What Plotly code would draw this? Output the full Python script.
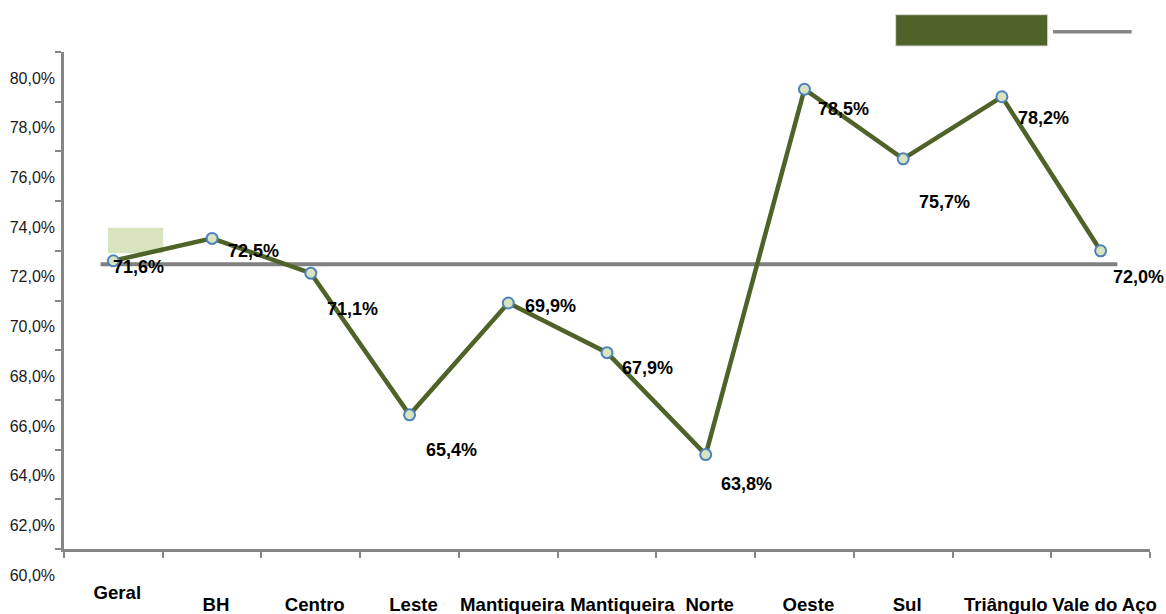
import plotly.graph_objects as go

# ---- data ----
categories = ["Geral", "BH", "Centro", "Leste", "Mantiqueira", "Mantiqueira",
              "Norte", "Oeste", "Sul", "Triângulo", "Vale do Aço"]
values = [71.6, 72.5, 71.1, 65.4, 69.9, 67.9, 63.8, 78.5, 75.7, 78.2, 72.0]
reference_value = 71.46
y_ticks = [60, 62, 64, 66, 68, 70, 72, 74, 76, 78, 80]
y_tick_labels = ["60,0%", "62,0%", "64,0%", "66,0%", "68,0%", "70,0%",
                 "72,0%", "74,0%", "76,0%", "78,0%", "80,0%"]

# ---- layout helpers (pixel offsets of the value labels) ----
label_dx = [25, 41, 42, 42, 42, 40, 41, 39, 41, 42, 38]
label_dy = [6, 13, 36, 35, 3, 15, 29, 20, 43, 21, 26]

FONT = "Liberation Sans, Arial, sans-serif"
OLIVE = "#4F6228"
GRAY = "#868686"

idx = list(range(len(categories)))

fig = go.Figure()
fig.add_trace(go.Scatter(
    x=idx, y=values, mode="lines+markers",
    line=dict(color=OLIVE, width=4.5),
    marker=dict(size=11, color="#D7E4BD", line=dict(color="#4F81BD", width=2)),
    hoverinfo="skip", showlegend=False, cliponaxis=False,
))

annotations = []
for i, v in enumerate(values):
    annotations.append(dict(
        x=i, y=v, xref="x", yref="y",
        text=f"{v:.1f}".replace(".", ",") + "%",
        showarrow=False, xshift=label_dx[i], yshift=-label_dy[i],
        font=dict(family=FONT, size=18, color="#000000", weight=700),
    ))

shapes = [
    dict(type="rect", xref="x", yref="y", x0=-0.054, x1=0.504, y0=71.9, y1=72.93,
         fillcolor="#D7E4BD", line=dict(width=0), layer="below"),
    dict(type="line", xref="x", yref="y", x0=-0.13, x1=10.17,
         y0=reference_value, y1=reference_value,
         line=dict(color="#808080", width=4), layer="below"),
    dict(type="rect", xref="paper", yref="paper", x0=0.7658, x1=0.9058, y0=1.0121, y1=1.0751,
         fillcolor=OLIVE, line=dict(color="#D9D9D9", width=1)),
    dict(type="line", xref="paper", yref="paper", x0=0.9107, x1=0.9831, y0=1.0408, y1=1.0408,
         line=dict(color=GRAY, width=3.5)),
]

common_x = dict(automargin=False, tickangle=0, ticks="", showline=False,
                ticklabeloverflow="allow", showgrid=False, zeroline=False,
                fixedrange=True)
label_font = dict(family=FONT, size=18.6, color="#000000", weight=700)

# groups of category labels: (indices, horizontal offset in category units, standoff)
label_groups = [
    ([0], 0.04, 30),
    ([1, 2, 3, 4, 6, 7, 8, 9, 10], 0.04, 42),
    ([5], 0.155, 42),
]

layout_axes = {}
for g, (ids, off, standoff) in enumerate(label_groups):
    layout_axes[f"xaxis{g + 2}"] = dict(
        **common_x, range=[-0.5 - off, 10.5 - off], overlaying="x", anchor="y",
        side="bottom", tickmode="array", tickvals=ids,
        ticktext=[categories[i] for i in ids], ticklabelstandoff=standoff,
        tickfont=label_font,
    )
    fig.add_trace(go.Scatter(x=[0], y=[70], xaxis=f"x{g + 2}", mode="markers",
                             marker=dict(opacity=0), hoverinfo="skip", showlegend=False))

fig.update_layout(
    width=1166, height=614,
    margin=dict(l=64, r=16, t=52, b=65),
    paper_bgcolor="white", plot_bgcolor="white",
    font=dict(family=FONT, color="#1a1a1a"),
    annotations=annotations, shapes=shapes,
    showlegend=False,
    xaxis=dict(
        range=[-0.5, 10.5], tickmode="array",
        tickvals=[i - 0.5 for i in range(len(categories) + 1)],
        ticktext=[""] * (len(categories) + 1),
        ticks="outside", ticklen=6, tickwidth=2, tickcolor=GRAY,
        showline=True, linecolor=GRAY, linewidth=2.5, automargin=False,
        showgrid=False, zeroline=False, fixedrange=True,
    ),
    yaxis=dict(
        range=[60, 80], tickmode="array", tickvals=y_ticks, ticktext=y_tick_labels,
        ticks="outside", ticklen=6, tickwidth=2, tickcolor=GRAY,
        showline=True, linecolor=GRAY, linewidth=2.5, automargin=False,
        showgrid=False, zeroline=False, fixedrange=True,
        ticklabelshift=26, ticklabelstandoff=-3, ticklabeloverflow="allow",
        tickfont=dict(family=FONT, size=16, color="#1a1a1a"),
    ),
    **layout_axes,
)

fig.write_html("out.html")
